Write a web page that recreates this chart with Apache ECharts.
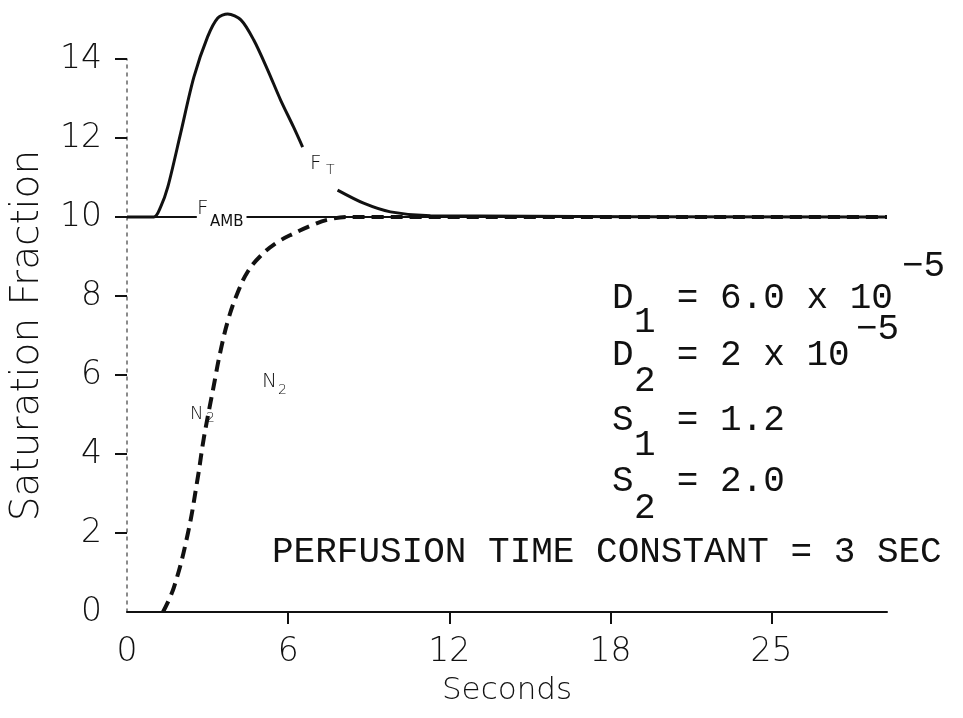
<!DOCTYPE html>
<html>
<head>
<meta charset="utf-8">
<script src="https://cdn.jsdelivr.net/npm/echarts@6/dist/echarts.min.js"></script>
<style>
  html, body { margin: 0; padding: 0; background: #fff; }
  #chart { width: 963px; height: 718px; }
</style>
</head>
<body>
<div id="chart"></div>
<script>
// x ticks every 6 s, last one printed as "25" on the original
var xTickLabels = ['0', '6', '12', '18', '25'];
var yTickLabels = ['0', '2', '4', '6', '8', '10', '12', '14'];

// tissue curve (solid), gap where its label sits
var ftTime  = [0, 1.0, 1.25, 1.52, 2.0, 2.49, 3.0, 3.38, 3.75, 4.24, 4.72, 5.24, 5.72, 6.2, 6.54, 7.2, 7.84, 8.81, 9.81, 11.3, 28.3];
var ftValue = [1, 1, 1.025, 1.076, 1.213, 1.354, 1.456, 1.504, 1.514, 1.499, 1.448, 1.372, 1.296, 1.228, 1.177, '-', 1.068, 1.035, 1.013, 1.003, 1.0];

// ambient line at 1.0, broken by the F_AMB label
var ambTime  = [-0.55, 2.6, 3.5, 4.45, 28.3];
var ambValue = [1, 1, '-', 1, 1];

// N2 curve (dashed)
var n2Time  = [1.34, 1.75, 2.27, 2.64, 2.86, 3.2, 3.49, 3.79, 4.13, 4.5, 4.98, 5.6, 6.2, 6.95, 7.47, 8.2, 28.3];
var n2Value = [0, 0.063, 0.2, 0.342, 0.44, 0.562, 0.663, 0.745, 0.81, 0.862, 0.902, 0.936, 0.958, 0.981, 0.993, 1.0, 1.0];

function pairs(t, v) {
	var out = [];
	for (var i = 0; i < t.length; i++) out.push([t[i], v[i]]);
	return out;
}

var labelFont = '"DejaVu Sans"';
var typeFont = '"Liberation Mono", monospace';

function txt(s, x, y, size, family, weight, align) {
	return {
		type: 'text', x: x, y: y, silent: true,
		style: {
			text: s,
			font: (weight || 'normal') + ' ' + size + 'px ' + family,
			fill: '#111',
			textAlign: align || 'left',
			textVerticalAlign: 'middle'
		}
	};
}

var chart = echarts.init(document.getElementById('chart'));
var option = {
	animation: false,
	backgroundColor: '#fff',
	grid: { left: 126, right: 76, top: 59, bottom: 106 },
	xAxis: {
		type: 'value', min: 0, max: 28.3, interval: 6,
		name: 'Seconds', nameLocation: 'middle', nameGap: 63,
		nameTextStyle: { fontFamily: labelFont, fontWeight: 200, fontSize: 31, color: '#111' },
		axisLine: { show: true, onZero: false, lineStyle: { color: '#111', width: 2 } },
		axisTick: { show: true, length: 12, customValues: [6, 12, 18, 24], lineStyle: { color: '#111', width: 2 } },
		axisLabel: {
			margin: 24, fontFamily: labelFont, fontWeight: 200, fontSize: 33, color: '#111',
			formatter: function (v) { var i = Math.round(v / 6); return Math.abs(v - i * 6) < 1e-6 ? (xTickLabels[i] || '') : ''; }
		},
		splitLine: { show: false }
	},
	yAxis: {
		type: 'value', min: 0, max: 1.4, interval: 0.2,
		name: 'Saturation Fraction', nameLocation: 'middle', nameGap: 80,
		nameTextStyle: { fontFamily: labelFont, fontWeight: 200, fontSize: 39, color: '#111' },
		axisLine: { show: true, lineStyle: { color: '#666', width: 1.5, type: [3, 5] } },
		axisTick: { show: true, length: 12, customValues: [0.2, 0.4, 0.6, 0.8, 1.0, 1.2, 1.4], lineStyle: { color: '#111', width: 2 } },
		axisLabel: {
			margin: 25, fontFamily: labelFont, fontWeight: 200, fontSize: 33, color: '#111',
			formatter: function (v) { return yTickLabels[Math.round(v / 0.2)] || ''; }
		},
		splitLine: { show: false }
	},
	series: [
		{
			name: 'F AMB', type: 'line', data: pairs(ambTime, ambValue),
			showSymbol: false, clip: false, connectNulls: false,
			lineStyle: { color: '#111', width: 2 }
		},
		{
			name: 'F T', type: 'line', data: pairs(ftTime, ftValue),
			showSymbol: false, clip: false, connectNulls: false, smooth: 0.3,
			lineStyle: { color: '#111', width: 3 }
		},
		{
			name: 'N2', type: 'line', data: pairs(n2Time, n2Value),
			showSymbol: false, clip: false, smooth: 0.4,
			lineStyle: { color: '#111', width: 4, type: [12, 7], cap: 'butt' }
		}
	],
	graphic: [
		// curve labels
		txt('F', 310, 164, 20, labelFont, 200),
		txt('T', 326, 170, 14, labelFont, 200),
		txt('F', 197, 209, 20, labelFont, 200),
		txt('AMB', 210, 222, 15, labelFont, 'normal'),
		txt('N', 262, 382, 20, labelFont, 200),
		txt('2', 278, 390, 14, labelFont, 200),
		txt('N', 190, 414, 18, labelFont, 200),
		txt('2', 206, 418, 14, labelFont, 200),
		// parameter block
		txt('D  = 6.0 x 10', 612, 298, 36, typeFont),
		txt('1', 634, 322, 36, typeFont),
		txt('\u22125', 902, 266, 36, typeFont),
		txt('D  = 2 x 10', 612, 355, 36, typeFont),
		txt('2', 634, 381, 36, typeFont),
		txt('\u22125', 856, 329, 36, typeFont),
		txt('S  = 1.2', 612, 420, 36, typeFont),
		txt('1', 634, 445, 36, typeFont),
		txt('S  = 2.0', 612, 481, 36, typeFont),
		txt('2', 634, 508, 36, typeFont),
		txt('PERFUSION TIME CONSTANT = 3 SEC', 272, 552, 36, typeFont)
	]
};
chart.setOption(option);
</script>
</body>
</html>
